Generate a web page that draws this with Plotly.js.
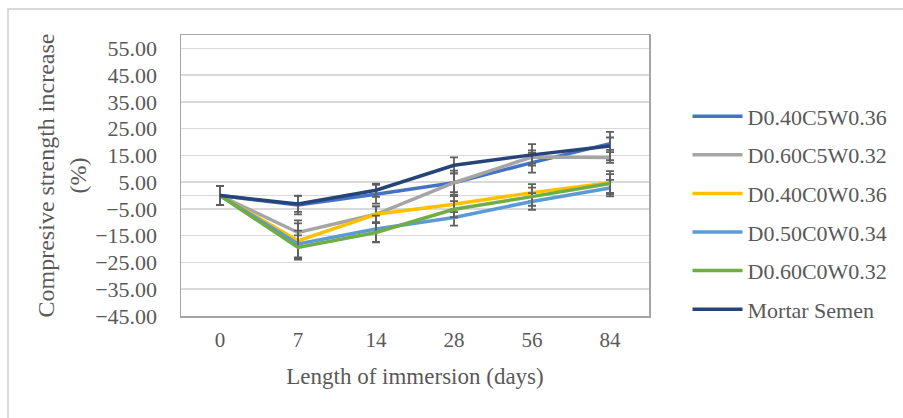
<!DOCTYPE html>
<html>
<head>
<meta charset="utf-8">
<script src="https://cdn.plot.ly/plotly-3.0.1.min.js"></script>
<style>
html,body{margin:0;padding:0;background:#fff;}
#frame{position:absolute;left:7px;top:8px;width:900px;height:414px;border-top:2px solid #d9d9d9;border-left:2px solid #d9d9d9;box-sizing:border-box;pointer-events:none;z-index:5;}
#chart{position:absolute;left:0;top:0;width:903px;height:418px;}
</style>
</head>
<body>
<div id="chart"></div>
<div id="frame"></div>
<script>
const days = ['0', '7', '14', '28', '56', '84'];
const seriesNames = ['D0.40C5W0.36', 'D0.60C5W0.32', 'D0.40C0W0.36', 'D0.50C0W0.34', 'D0.60C0W0.32', 'Mortar Semen'];
const d040c5 = [0, -3.5, 0.5, 4.8, 12.3, 19.4];
const d060c5 = [0, -13.8, -7.0, 4.8, 14.4, 14.2];
const d040c0 = [0, -16.9, -7.0, -3.2, 1.1, 4.8];
const d050c0 = [0, -18.1, -12.5, -8.2, -2.2, 2.8];
const d060c0 = [0, -19.4, -13.8, -5.1, -0.4, 4.5];
const mortar = [0, -3.1, 2.0, 11.3, 15.2, 18.5];
const err040c5 = [3.5, 3.5, 3.5, 4.5, 3.7, 2.3];
const err060c5 = [3.5, 4.5, 3.0, 3.5, 2.5, 2.0];
const err040c0 = [3.5, 6.5, 3.0, 3.0, 3.2, 4.3];
const err050c0 = [3.5, 5.0, 5.0, 3.0, 3.1, 3.1];
const err060c0 = [3.5, 4.5, 3.5, 3.0, 3.4, 3.5];
const errMortar = [3.5, 3.0, 2.5, 3.0, 4.0, 5.3];
const colors = ['#4472C4', '#A5A5A5', '#FFC000', '#5B9BD5', '#70AD47', '#264478'];
const yTicks = [-45, -35, -25, -15, -5, 5, 15, 25, 35, 45, 55];

const values = [d040c5, d060c5, d040c0, d050c0, d060c0, mortar];
const errs = [err040c5, err060c5, err040c0, err050c0, err060c0, errMortar];

const traces = values.map((v, i) => ({
  type: 'scatter',
  mode: 'lines',
  x: days,
  y: v,
  name: seriesNames[i],
  legendgroup: 'g' + i,
  line: {color: colors[i], width: 3.5},
  error_y: {type: 'data', array: errs[i], visible: true, color: '#5f5f5f', thickness: 1.8, width: 4}
}));

const font = "'Liberation Serif', 'Times New Roman', serif";
const layout = {
  width: 903, height: 418,
  margin: {l: 181, r: 253, t: 35, b: 102},
  paper_bgcolor: '#ffffff', plot_bgcolor: '#ffffff',
  font: {family: font, color: '#595959', size: 21},
  showlegend: true,
  legend: {x: 1.08, xanchor: 'left', y: 0.785, yanchor: 'top', font: {family: font, size: 22, color: '#595959'},
           tracegroupgap: 7, itemwidth: 50, bgcolor: 'rgba(0,0,0,0)'},
  xaxis: {type: 'category', range: [-0.5, 5.5], showgrid: false, showline: true, mirror: true,
          linecolor: '#a6a6a6', linewidth: 1.5, ticks: '', tickfont: {family: font, size: 21, color: '#595959'},
          ticklabelstandoff: 4,
          title: {text: 'Length of immersion (days)', font: {family: font, size: 23, color: '#595959'}, standoff: 17}},
  yaxis: {range: [-45, 60], tickvals: yTicks, tickformat: '.2f', showgrid: true, gridcolor: '#d9d9d9', gridwidth: 1.5,
          zeroline: true, zerolinecolor: '#d9d9d9', zerolinewidth: 1.5,
          showline: true, mirror: true, linecolor: '#a6a6a6', linewidth: 1.5, ticks: '',
          tickfont: {family: font, size: 22, color: '#595959'}, ticklabelstandoff: 18,
          title: {text: 'Compresive strength increase<br>(%)', font: {family: font, size: 24, color: '#595959'}, standoff: 2}}
};

Plotly.newPlot('chart', traces, layout, {displayModeBar: false, staticPlot: true});
</script>
</body>
</html>
